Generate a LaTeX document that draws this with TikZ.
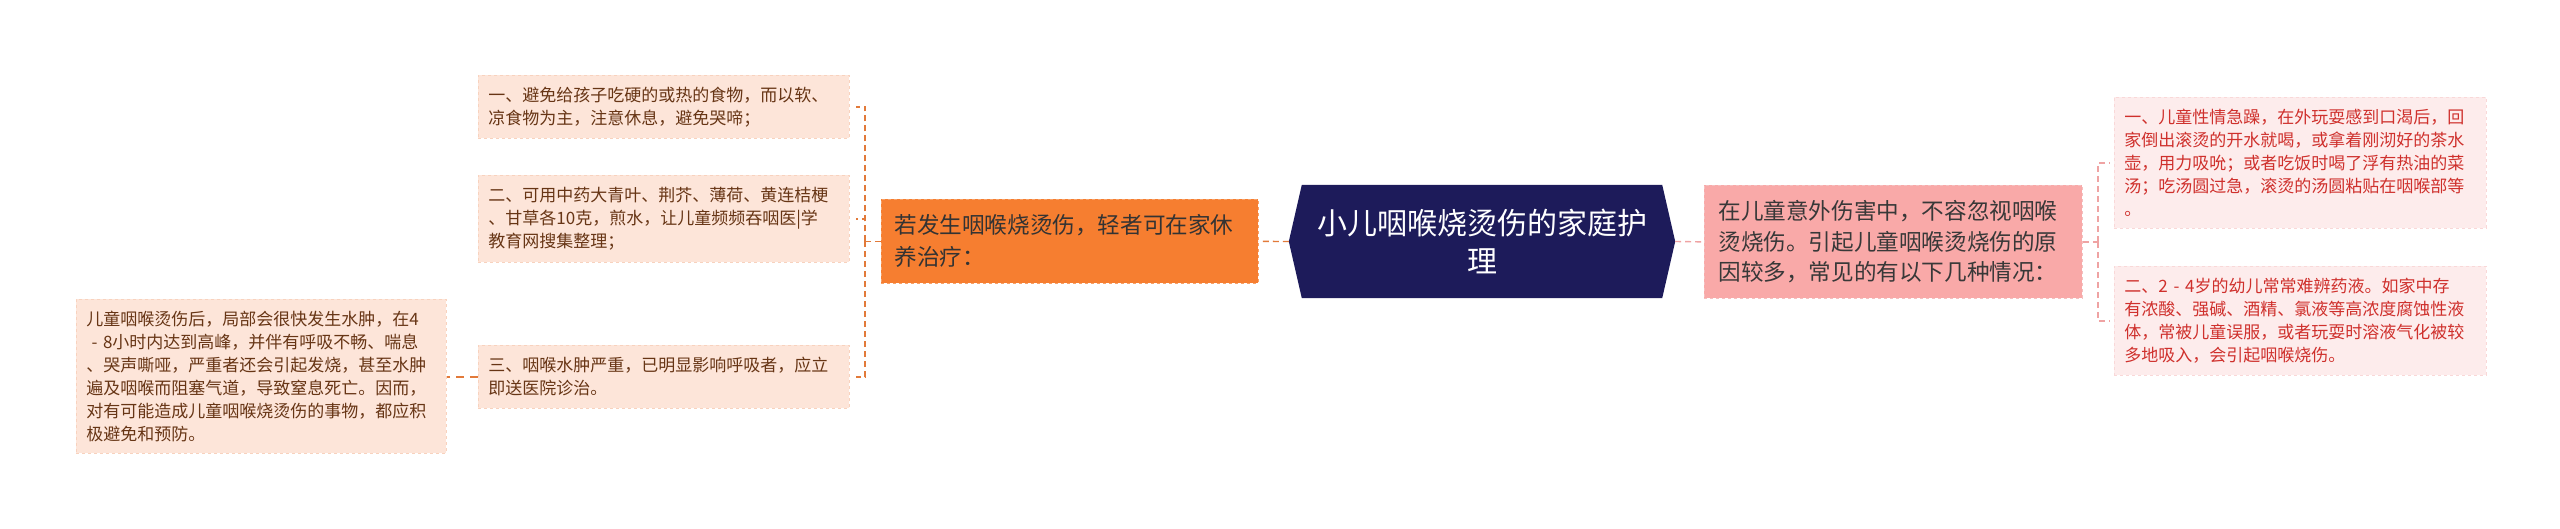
\documentclass[tikz,border=0pt]{standalone}
\usepackage{fontspec}
\setmainfont{Noto Sans CJK SC}
\usetikzlibrary{calc}
\definecolor{navy}{HTML}{1D1B5A}
\definecolor{orangefill}{HTML}{F67E30}
\definecolor{orangeline}{HTML}{E27A3A}
\definecolor{orangeborder}{HTML}{F7A168}
\definecolor{lfill}{HTML}{FDE5D9}
\definecolor{lborder}{HTML}{F8D2BE}
\definecolor{ltext}{HTML}{673515}
\definecolor{pinkfill}{HTML}{F9A9A8}
\definecolor{pinkborder}{HTML}{F4C0C0}
\definecolor{pinkline}{HTML}{EFA3A3}
\definecolor{rfill}{HTML}{FDECEC}
\definecolor{rborder}{HTML}{F9D8D8}
\definecolor{rtext}{HTML}{CF302C}
\tikzset{
  lbox/.style={anchor=north west, fill=lfill, draw=lborder, dashed, line width=0.8pt,
    inner xsep=10pt, inner ysep=0pt, align=left, text=ltext,
    font=\fontsize{17}{23}\selectfont},
  rbox/.style={anchor=north west, fill=rfill, draw=rborder, dashed, line width=0.8pt,
    inner xsep=10pt, inner ysep=0pt, align=left, text=rtext,
    font=\fontsize{17}{23}\selectfont},
  olink/.style={draw=orangeline, line width=1.4pt, dash pattern=on 6pt off 4pt},
  plink/.style={draw=pinkline, line width=1.4pt, dash pattern=on 6pt off 4pt},
}
\begin{document}
\begin{tikzpicture}[x=1pt,y=-1pt]
\useasboundingbox (0,0) rectangle (2560,529);
% central hexagon
\node[minimum width=386pt, minimum height=113pt, inner sep=0pt] (root) at (1482,241.5) {};
\fill[navy] (root.west) -- ($(root.north west)+(13,0)$) -- ($(root.north east)+(-13,0)$)
  -- (root.east) -- ($(root.south east)+(-13,0)$) -- ($(root.south west)+(13,0)$) -- cycle;
\node[text=white, align=center, font=\fontsize{30}{38}\selectfont] at (root.center) {小儿咽喉烧烫伤的家庭护\\理};
% left main node
\node[anchor=north west, fill=orangefill, draw=orangeborder, dashed, line width=0.8pt,
  minimum height=84pt, text width=351pt, inner xsep=13pt, inner ysep=0pt, align=left,
  text=black!80, font=\fontsize{22.6}{32}\selectfont] (orn) at (881,199)
  {若发生咽喉烧烫伤，轻者可在家休\\养治疗：};
% left children
\node[lbox, text width=351pt, minimum height=63pt] (b1) at (478,75)
  {一、避免给孩子吃硬的或热的食物，而以软、\\凉食物为主，注意休息，避免哭啼；};
\node[lbox, text width=351pt, minimum height=87pt] (b2) at (478,175)
  {二、可用中药大青叶、荆芥、薄荷、黄连桔梗\\、甘草各10克，煎水，让儿童频频吞咽医|学\\教育网搜集整理；};
\node[lbox, text width=351pt, minimum height=63pt] (b3) at (478,345)
  {三、咽喉水肿严重，已明显影响呼吸者，应立\\即送医院诊治。};
\node[lbox, text width=350pt, minimum height=154pt] (fl) at (76,299)
  {儿童咽喉烫伤后，局部会很快发生水肿，在4\\\hspace*{0.3em}- 8小时内达到高峰，并伴有呼吸不畅、喘息\\、哭声嘶哑，严重者还会引起发烧，甚至水肿\\遍及咽喉而阻塞气道，导致窒息死亡。因而，\\对有可能造成儿童咽喉烧烫伤的事物，都应积\\极避免和预防。};
% right main node
\node[anchor=north west, fill=pinkfill, draw=pinkborder, dashed, line width=0.8pt,
  minimum height=113pt, text width=350pt, inner xsep=14pt, inner ysep=0pt, align=left,
  text=black!78, font=\fontsize{22.6}{30.5}\selectfont] (pk) at (1704,185)
  {在儿童意外伤害中，不容忽视咽喉\\烫烧伤。引起儿童咽喉烫烧伤的原\\因较多，常见的有以下几种情况：};
% right children
\node[rbox, text width=352pt, minimum height=131pt] (r1) at (2114,97)
  {一、儿童性情急躁，在外玩耍感到口渴后，回\\家倒出滚烫的开水就喝，或拿着刚沏好的茶水\\壶，用力吸吮；或者吃饭时喝了浮有热油的菜\\汤；吃汤圆过急，滚烫的汤圆粘贴在咽喉部等\\。};
\node[rbox, text width=352pt, minimum height=109pt] (r2) at (2114,266)
  {二、2 - 4岁的幼儿常常难辨药液。如家中存\\有浓酸、强碱、酒精、氯液等高浓度腐蚀性液\\体，常被儿童误服，或者玩耍时溶液气化被较\\多地吸入，会引起咽喉烧伤。};
% connectors
\draw[olink] (root.west) -- (orn.east);
\draw[olink] (orn.west) -- ++(-16,0) coordinate (ls);
\draw[olink, shorten >=6pt] (ls) |- (b1.east);
\draw[olink, shorten >=6pt] (ls) |- (b2.east);
\draw[olink, shorten >=6pt] (ls) |- (b3.east);
\draw[olink, dash pattern=on 8pt off 6pt] (b3.west) -- (fl.east |- b3.west);
\draw[plink] (root.east) -- (pk.west);
\draw[plink] (pk.east) -- ++(15,0) coordinate (rs);
\draw[plink, shorten >=5pt] (rs) |- (r1.west);
\draw[plink, shorten >=5pt] (rs) |- (r2.west);
\end{tikzpicture}
\end{document}
